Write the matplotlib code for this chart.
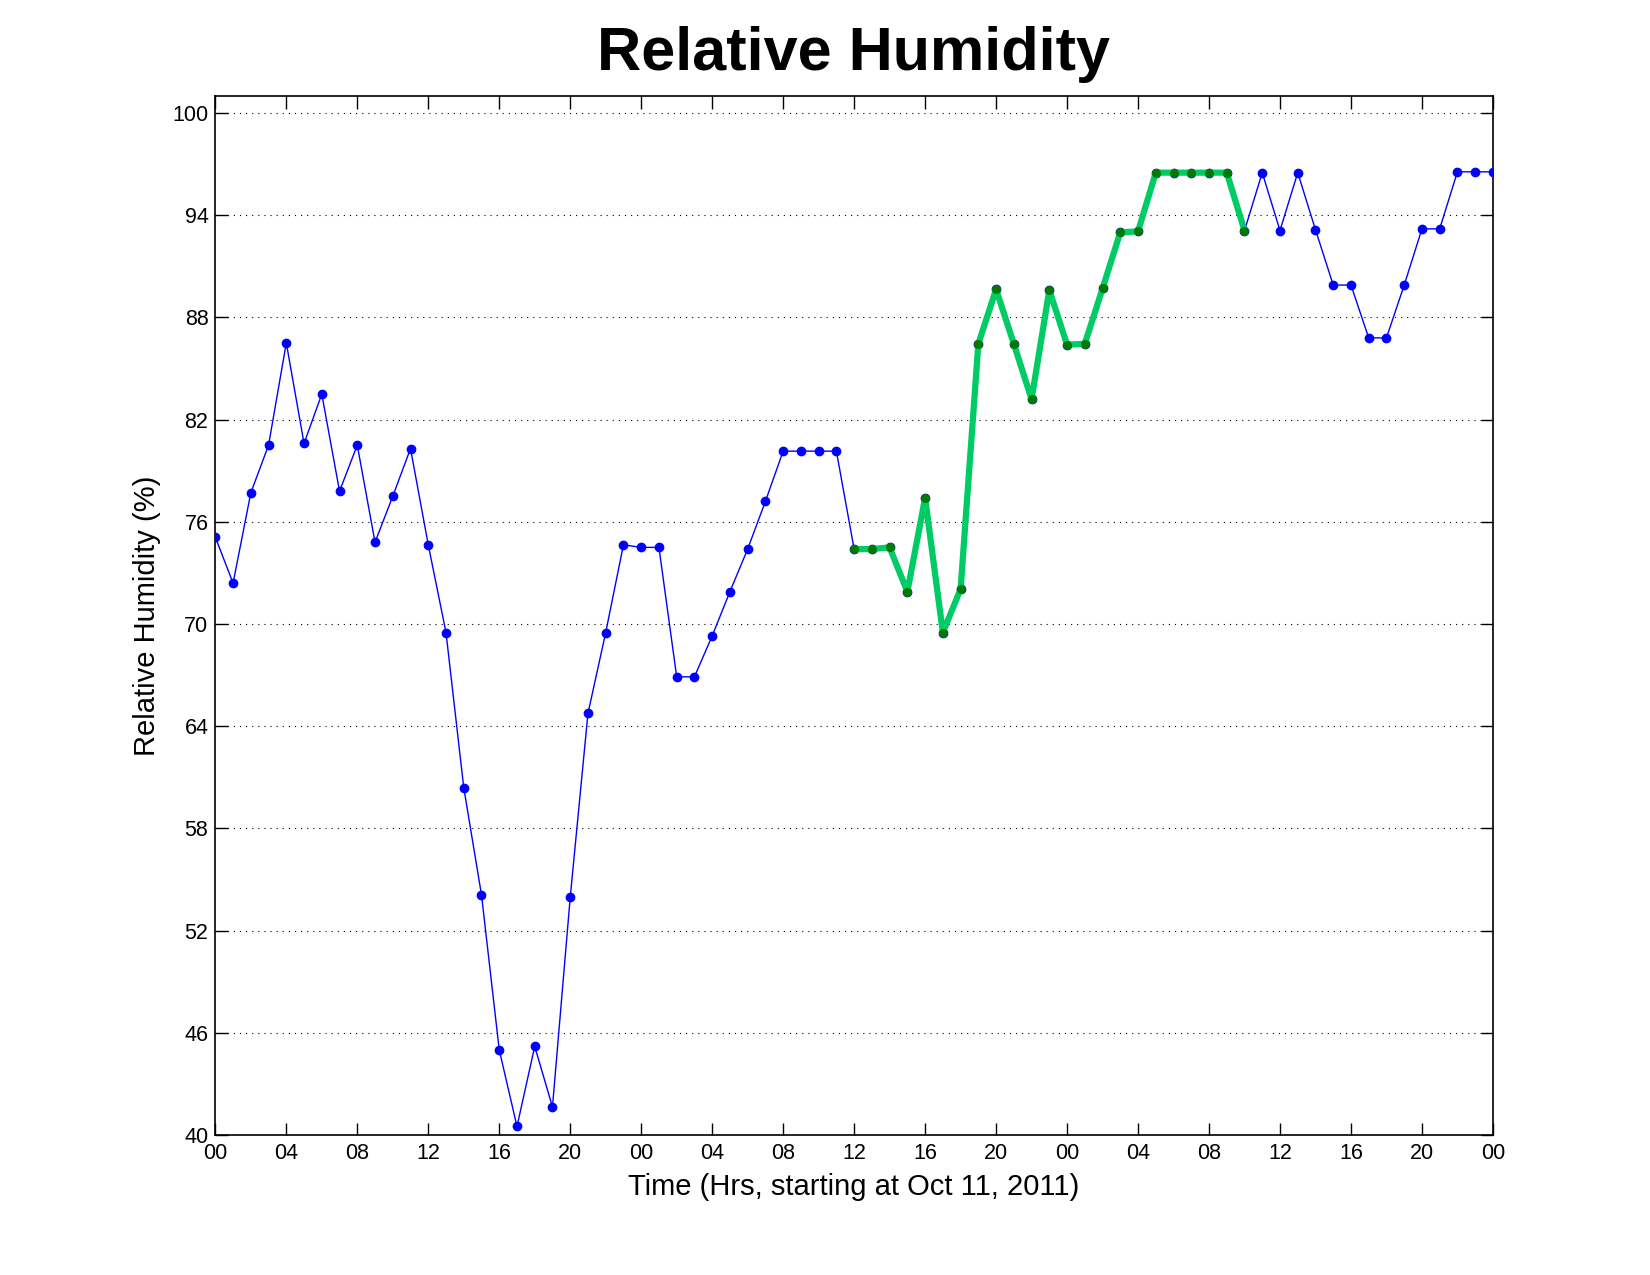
import matplotlib
matplotlib.use("Agg")
import matplotlib.pyplot as plt
import numpy as np

# hourly relative humidity (%) starting Oct 11, 2011 00:00
rh = [75.1, 72.4, 77.7, 80.5, 86.5, 80.6, 83.5, 77.8, 80.5, 74.8,
      77.5, 80.3, 74.65, 69.5, 60.4, 54.1, 45.0, 40.5, 45.2, 41.65,
      53.95, 64.75, 69.5, 74.65, 74.5, 74.5, 66.9, 66.9, 69.3, 71.9,
      74.4, 77.2, 80.15, 80.15, 80.15, 80.15, 74.4, 74.4, 74.5, 71.9,
      77.4, 69.5, 72.05, 86.45, 89.65, 86.45, 83.2, 89.6, 86.4, 86.45,
      89.7, 93.0, 93.05, 96.5, 96.5, 96.5, 96.5, 96.5, 93.1, 96.5,
      93.1, 96.5, 93.15, 89.9, 89.9, 86.8, 86.8, 89.9, 93.2, 93.2,
      96.55, 96.55, 96.55]
hours = np.arange(len(rh))

# highlighted stretch (hour index range)
hl_start, hl_end = 36, 58

xticks = list(range(0, 73, 4))
xtick_labels = ['00', '04', '08', '12', '16', '20', '00', '04', '08', '12',
                '16', '20', '00', '04', '08', '12', '16', '20', '00']
yticks = [40, 46, 52, 58, 64, 70, 76, 82, 88, 94, 100]

plt.rcParams['font.family'] = ['Liberation Sans', 'DejaVu Sans']

fig = plt.figure(figsize=(16.5, 12.75), dpi=100)
ax = fig.add_axes([0.1305, 0.1098, 0.7743, 0.8149])

# horizontal dotted grid
for y in yticks:
    ax.axhline(y, color='black', lw=0.8, ls=(0, (1, 4.5)), zorder=1)

ax.plot(hours, rh, color='#0000FF', lw=1.0, marker='o', ms=6,
        mfc='#0000FF', mec='#0000FF', zorder=3)
ax.plot(hours[hl_start:hl_end + 1], rh[hl_start:hl_end + 1], color='#00CC66',
        lw=4.5, marker='o', ms=5.5, mfc='#007A00', mec='#007A00', zorder=4,
        solid_joinstyle='round')

ax.set_xlim(0, 72)
ax.set_ylim(40, 101)
ax.set_xticks(xticks)
ax.set_xticklabels(xtick_labels)
ax.set_yticks(yticks)
ax.set_yticklabels([str(v) for v in yticks])

ax.tick_params(direction='in', length=9, width=1.0, labelsize=15.5,
               top=True, right=True)
ax.tick_params(axis='x', pad=6)
ax.tick_params(axis='y', pad=5)
for s in ax.spines.values():
    s.set_linewidth(1.2)

fig.text(0.517, 0.945, 'Relative Humidity', fontsize=44, fontweight='bold',
         ha='center', va='baseline')
fig.text(0.5176, 0.0627, 'Time (Hrs, starting at Oct 11, 2011)', fontsize=21,
         ha='center', va='baseline')
fig.text(0.089, 0.517, 'Relative Humidity (%)', fontsize=21, rotation=90,
         ha='center', va='center')

fig.savefig('out.png', dpi=100)
